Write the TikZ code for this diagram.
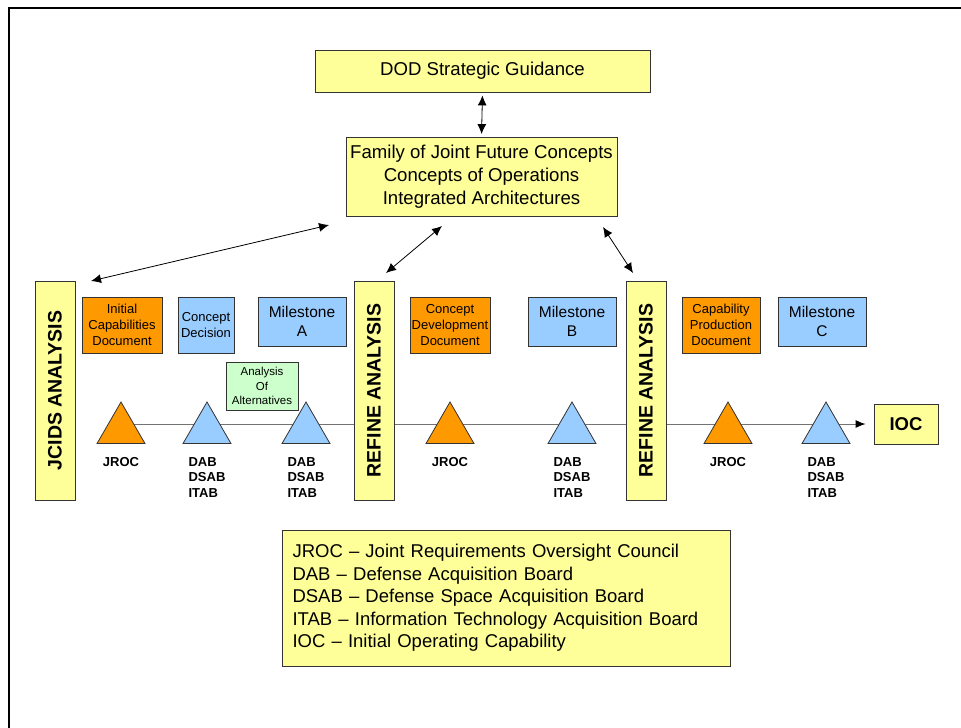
\documentclass[tikz,border=0pt]{standalone}
\usepackage{fontspec}
\setmainfont{Liberation Sans}
\usetikzlibrary{shapes.geometric, arrows.meta, positioning, calc}
\definecolor{ioyellow}{HTML}{FFFF99}
\definecolor{ioorange}{HTML}{FF9900}
\definecolor{ioblue}{HTML}{99CCFF}
\definecolor{iogreen}{HTML}{CCFFCC}
\newcommand{\fsz}[2]{\fontsize{#1}{#2}\selectfont}

\begin{document}
\begin{tikzpicture}[x=1pt, y=-1pt,
  box/.style={draw=black!80, line width=0.8pt, inner sep=0pt, align=center},
  ybox/.style={box, fill=ioyellow},
  obox/.style={box, fill=ioorange, minimum width=#1, minimum height=56pt, font=\fsz{13}{15.7}},
  cbox/.style={box, fill=ioblue, minimum width=56pt, minimum height=56pt, font=\fsz{13}{15.7}},
  mbox/.style={box, fill=ioblue, minimum width=88pt, minimum height=49pt, font=\fsz{15.5}{19}},
  bar/.style={ybox, rotate=90, minimum width=219pt, minimum height=40pt, font=\fsz{19.5}{22}\bfseries},
  tri/.style={regular polygon, regular polygon sides=3, draw=black!80, line width=0.8pt,
    inner sep=0pt, minimum size=55.4pt, fill=#1},
  lab/.style={inner sep=0pt, align=left, anchor=north, font=\fsz{13}{15.7}\bfseries},
  dbl/.style={{Latex[length=10pt,width=9pt]}-{Latex[length=10pt,width=9pt]}, line width=0.8pt}]
\useasboundingbox (0,0) rectangle (961,728);
\draw[line width=2pt] (8.5,740) -- (8.5,7.5) -- (970,7.5);

% Guidance and concepts
\node[ybox, minimum width=335pt, minimum height=42pt, font=\fsz{18.6}{23}] (dod) at (482.5,71) {DOD Strategic Guidance};
\node[ybox, minimum width=271pt, minimum height=79pt, font=\fsz{18.6}{23}] (fam) at (481.5,177)
  {Family of Joint Future Concepts\\Concepts of Operations\\Integrated Architectures};
\draw[dbl, shorten <=3pt, shorten >=3pt] (dod.south) -- (fam.north);

\node[ybox, minimum width=64pt, minimum height=40pt, font=\fsz{18.5}{22}\bfseries] (ioc) at (906,424) {IOC};
\coordinate (start) at (121,424);
\draw[black!55, line width=1pt, -{Latex[color=black,length=10pt,width=8pt]}, shorten >=8pt] (start) -- (ioc.west);

% Analysis bars
\node[bar] (jcids) at (55,390.5) {JCIDS ANALYSIS};
\node[bar] (refa) at (374,390.5) {REFINE ANALYSIS};
\node[bar] (refb) at (646,390.5) {REFINE ANALYSIS};

% Documents and milestones
\node[obox=80pt] (icd) at (122,325) {Initial\\Capabilities\\Document};
\node[cbox] (cd) at (206,325) {Concept\\Decision};
\node[mbox] (msa) at (302,321.5) {Milestone\\A};
\node[box, fill=iogreen, minimum width=72pt, minimum height=48pt, font=\fsz{11.5}{14.5}] (aoa) at (262,386)
  {Analysis\\Of\\Alternatives};
\node[obox=80pt] (cdd) at (450,325) {Concept\\Development\\Document};
\node[mbox] (msb) at (572,321.5) {Milestone\\B};
\node[obox=78pt] (cpd) at (721,325) {Capability\\Production\\Document};
\node[mbox] (msc) at (822,321.5) {Milestone\\C};

% Reviews on the timeline
\foreach \x/\c/\n/\lab in {121/ioorange/t1/JROC, 207/ioblue/t2/{DAB\\DSAB\\ITAB},
    306/ioblue/t3/{DAB\\DSAB\\ITAB}, 450/ioorange/t4/JROC, 572/ioblue/t5/{DAB\\DSAB\\ITAB},
    728/ioorange/t6/JROC, 826/ioblue/t7/{DAB\\DSAB\\ITAB}} {
  \node[tri=\c] (\n) at (\x,429.7) {};
  \node[lab, yshift=-13pt] (\n lab) at (\n.south) {\lab};
}

% Links to the concepts
\coordinate (ja) at (91,281);
\coordinate (jb) at (329,225);
\coordinate (ra) at (386,273);
\coordinate (rb) at (442,226);
\coordinate (sa) at (633,273);
\coordinate (sb) at (603,227);
\draw[dbl] (ja) -- (jb);
\draw[dbl] (ra) -- (rb);
\draw[dbl] (sa) -- (sb);

% Legend
\node[ybox, minimum width=448pt, minimum height=136pt, text width=427pt, align=left, font=\fsz{18.5}{22.5}] (legend) at (506,598)
  {JROC -- Joint Requirements Oversight Council\\
   DAB -- Defense Acquisition Board\\
   DSAB -- Defense Space Acquisition Board\\
   ITAB -- Information Technology Acquisition Board\\
   IOC -- Initial Operating Capability};
\end{tikzpicture}
\end{document}
